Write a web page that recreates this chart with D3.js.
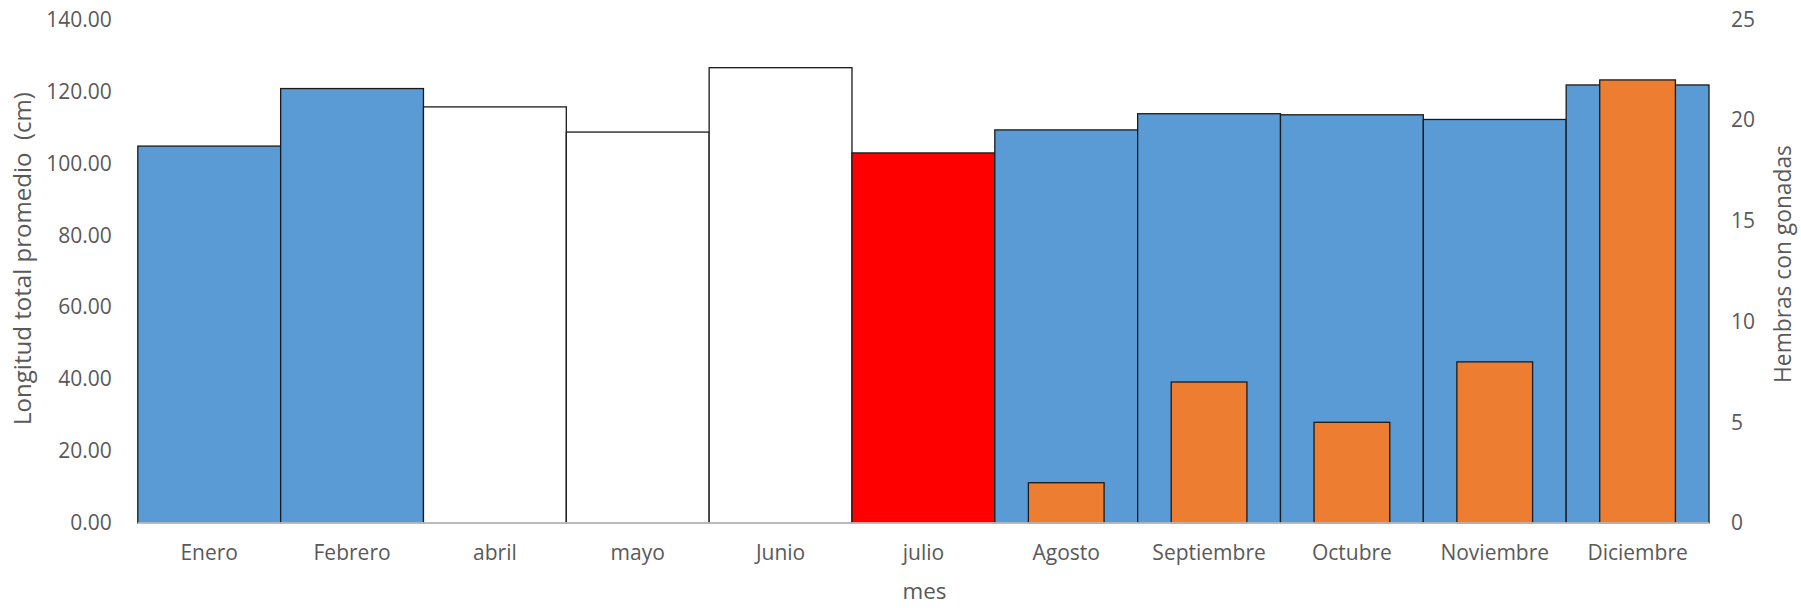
<!DOCTYPE html>
<html><head><meta charset="utf-8">
<script src="https://cdn.jsdelivr.net/npm/d3@7"></script>
<style>
html,body{margin:0;padding:0;background:#fff;}
text{font-family:"Open Sans",sans-serif;fill:#595959;}
</style></head>
<body>
<svg id="c" width="1801" height="608"></svg>
<script>
const months = ["Enero","Febrero","abril","mayo","Junio","julio","Agosto","Septiembre","Octubre","Noviembre","Diciembre"];
const longitud = [104.8,120.8,115.7,108.7,126.6,102.9,109.3,113.8,113.5,112.2,121.8];
const hembras = [null,null,null,null,null,null,2,7,5,8,22];
const leftTicks = [0,20,40,60,80,100,120,140];
const rightTicks = [0,5,10,15,20,25];
const fillColors = ["#5B9BD5","#5B9BD5","#FFFFFF","#FFFFFF","#FFFFFF","#FF0000","#5B9BD5","#5B9BD5","#5B9BD5","#5B9BD5","#5B9BD5"];

const svg = d3.select("#c");
const L = 137.8, R = 1709, T = 19.5, B = 523;
const x = d3.scaleBand().domain(months).range([L,R]).padding(0);
const yL = d3.scaleLinear().domain([0,140]).range([B,T]);
const yR = d3.scaleLinear().domain([0,25]).range([B,T]);

// primary bars
svg.append("g").selectAll("rect").data(months).join("rect")
  .attr("x", d=>x(d)).attr("width", x.bandwidth())
  .attr("y", (d,i)=>yL(longitud[i])).attr("height",(d,i)=>B-yL(longitud[i]))
  .attr("fill",(d,i)=>fillColors[i]).attr("stroke","#1a1a1a").attr("stroke-width",1.3);

// secondary bars
const ow = x.bandwidth()*0.53;
svg.append("g").selectAll("rect").data(months.map((m,i)=>({m,v:hembras[i]})).filter(d=>d.v!=null)).join("rect")
  .attr("x", d=>x(d.m)+(x.bandwidth()-ow)/2).attr("width", ow)
  .attr("y", d=>yR(d.v)).attr("height", d=>B-yR(d.v))
  .attr("fill","#ED7D31").attr("stroke","#1a1a1a").attr("stroke-width",1.3);

// baseline
svg.append("line").attr("x1",L).attr("x2",R).attr("y1",B).attr("y2",B)
  .attr("stroke","#D9D9D9").attr("stroke-width",1.5);

// left axis
const gl = svg.append("g").attr("transform",`translate(${L},0)`)
  .call(d3.axisLeft(yL).tickValues(leftTicks).tickFormat(d3.format(".2f")).tickSize(0).tickPadding(26));
gl.select(".domain").remove();
gl.selectAll("text").style("font-size","21px").style("font-family","'Open Sans',sans-serif").attr("fill","#595959");

// right axis
const gr = svg.append("g").attr("transform",`translate(${R},0)`)
  .call(d3.axisRight(yR).tickValues(rightTicks).tickSize(0).tickPadding(22));
gr.select(".domain").remove();
gr.selectAll("text").style("font-size","21px").style("font-family","'Open Sans',sans-serif").attr("fill","#595959");

// x axis
const gx = svg.append("g").attr("transform",`translate(0,${B})`)
  .call(d3.axisBottom(x).tickSize(0).tickPadding(22));
gx.select(".domain").remove();
gx.selectAll("text").style("font-size","21px").style("font-family","'Open Sans',sans-serif").attr("fill","#595959");

// titles, sized to match reference lengths
function fit(sel, target){
  const len = sel.node().getComputedTextLength();
  const fs = parseFloat(sel.style("font-size"));
  sel.style("font-size", (fs*target/len).toFixed(2)+"px");
}
const t1 = svg.append("text").attr("transform","translate(31,258.5) rotate(-90)").attr("text-anchor","middle")
  .style("font-size","21px").style("white-space","pre").text("Longitud total promedio  (cm)");
fit(t1, 333);
const t2 = svg.append("text").attr("transform","translate(1791,264) rotate(-90)").attr("text-anchor","middle")
  .style("font-size","21px").text("Hembras con gonadas");
fit(t2, 238);
const t3 = svg.append("text").attr("x",924.5).attr("y",599).attr("text-anchor","middle")
  .style("font-size","21px").text("mes");
fit(t3, 44);
</script>
</body></html>
